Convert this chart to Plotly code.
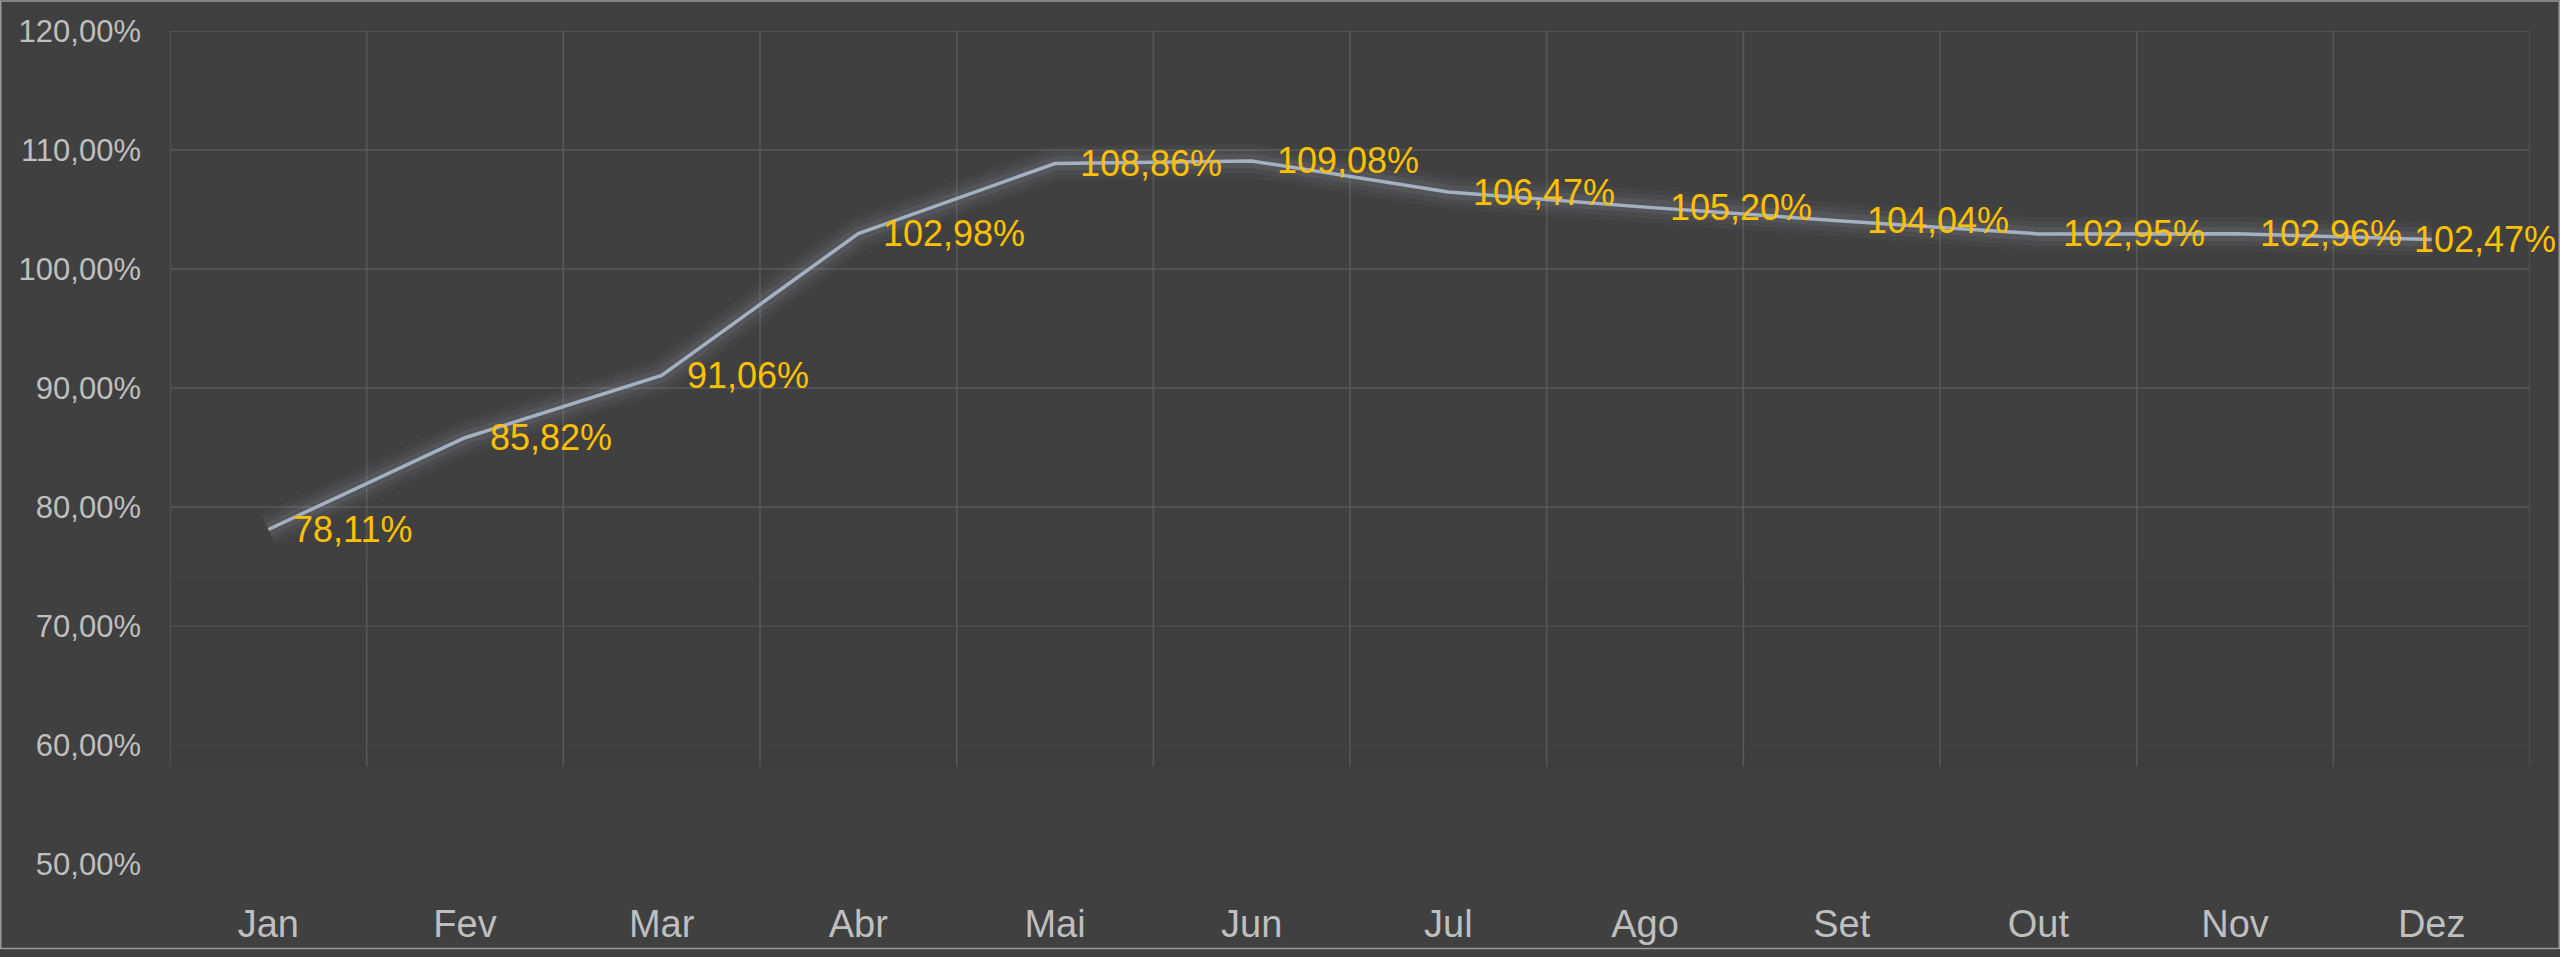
import plotly.graph_objects as go

months = ["Jan", "Fev", "Mar", "Abr", "Mai", "Jun", "Jul", "Ago", "Set", "Out", "Nov", "Dez"]
values = [78.11, 85.82, 91.06, 102.98, 108.86, 109.08, 106.47, 105.20, 104.04, 102.95, 102.96, 102.47]
y_ticks = [50, 60, 70, 80, 90, 100, 110, 120]
y_ticktext = ["50,00%", "60,00%", "70,00%", "80,00%", "90,00%", "100,00%", "110,00%", "120,00%"]

BG = "#404040"
GRID = "#595959"
LINE = "#A4B1C2"
LABEL = "#FFC000"
TXT = "#BFBFBF"
FONT = "Liberation Sans, Arial, sans-serif"

x = list(range(len(months)))
labels = [f"{v:.2f}".replace(".", ",") + "%" for v in values]
Y_MIN, Y_MAX = y_ticks[0], y_ticks[-1]
GRID_BOTTOM = 58.2  # grid fades out below this value

fig = go.Figure()

# glow under the line
for w, a in [(34, 0.045), (24, 0.06), (14, 0.085)]:
    fig.add_trace(go.Scatter(x=x, y=values, mode="lines",
                             line=dict(color=f"rgba(180,195,210,{a})", width=w),
                             hoverinfo="skip", showlegend=False))
fig.add_trace(go.Scatter(x=x, y=values, mode="lines",
                         line=dict(color=LINE, width=3.5),
                         hoverinfo="skip", showlegend=False))

# data labels
for i, (xi, v, t) in enumerate(zip(x, values, labels)):
    last = i == len(x) - 1
    fig.add_annotation(x=xi, y=v, text=t, showarrow=False,
                       xanchor="left", yanchor="middle",
                       xshift=-20 if last else 23,
                       font=dict(family=FONT, size=36, color=LABEL))

# grid lines (drawn as shapes so they can fade out at the bottom)
for yt in y_ticks:
    if yt > GRID_BOTTOM:
        fig.add_shape(type="line", xref="paper", yref="y", x0=0, x1=1, y0=yt, y1=yt,
                      line=dict(color=GRID, width=1.5), layer="below")
for i in range(len(months) + 1):
    fig.add_shape(type="line", xref="x", yref="y", x0=i - 0.5, x1=i - 0.5,
                  y0=GRID_BOTTOM, y1=Y_MAX,
                  line=dict(color=GRID, width=1.5), layer="below")
steps = [59, 60.5, 62, 63.5, 65, 66.5, 68, 69.5, 71, 72.5, 74, 75.5]
for s in steps:
    fig.add_shape(type="rect", xref="paper", yref="y", x0=0, x1=1, y0=GRID_BOTTOM - 0.3, y1=s,
                  fillcolor=BG, opacity=0.13, line=dict(width=0), layer="below")

# outer border
W, H = 2560, 957
ml, mr, mt, mb = 170, 30, 31, 86
pw, ph = W - ml - mr, H - mt - mb
fig.add_shape(type="rect", xref="paper", yref="paper",
              x0=-ml / pw + 0.75 / pw, x1=1 + (mr - 0.75) / pw,
              y0=-mb / ph + 0.75 / ph, y1=1 + (mt - 0.75) / ph,
              line=dict(color="#9a9a9a", width=1.5), fillcolor="rgba(0,0,0,0)", layer="above")

fig.update_layout(
    width=W, height=H,
    margin=dict(l=ml, r=mr, t=mt, b=mb),
    paper_bgcolor=BG, plot_bgcolor=BG,
    showlegend=False,
    hovermode=False,
    xaxis=dict(range=[-0.5, len(months) - 0.5], tickmode="array", tickvals=x, ticktext=months,
               showgrid=False, zeroline=False, showline=False,
               ticks="", ticklabelstandoff=34,
               tickfont=dict(family=FONT, size=38, color=TXT)),
    yaxis=dict(range=[Y_MIN, Y_MAX], tickmode="array", tickvals=y_ticks, ticktext=y_ticktext,
               showgrid=False, zeroline=False, showline=False,
               ticks="", ticklabelstandoff=28,
               tickfont=dict(family=FONT, size=31, color=TXT)),
)

fig.write_html("out.html", config={"displayModeBar": False},
               post_script="document.body.style.margin='0';")
